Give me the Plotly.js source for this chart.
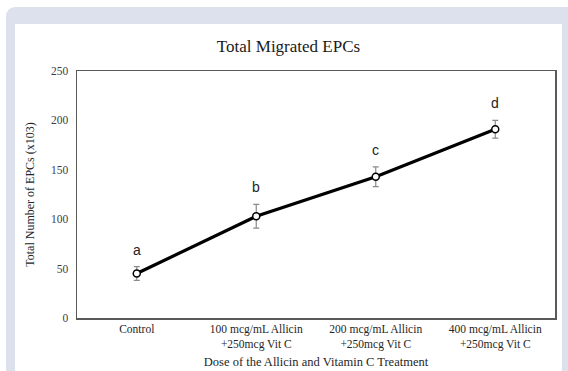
<!DOCTYPE html>
<html>
<head>
<meta charset="utf-8">
<script src="https://cdn.plot.ly/plotly-3.0.1.min.js"></script>
<style>
  html, body { margin: 0; padding: 0; background: #ffffff; width: 568px; height: 371px; overflow: hidden; }
  #frame { position: absolute; left: 6px; top: 7px; width: 600px; height: 400px; background: #dde1ee; border-radius: 9px; }
  #chart { position: absolute; left: 15px; top: 24px; width: 547px; height: 347px; background: #ffffff; }
</style>
</head>
<body>
<div id="frame"></div>
<div id="chart"></div>
<script>
const categories = [
  "Control",
  "100 mcg/mL Allicin<br>+250mcg Vit C",
  "200 mcg/mL Allicin<br>+250mcg Vit C",
  "400 mcg/mL Allicin<br>+250mcg Vit C"
];
const migratedEPCs = [45, 103, 143, 191];
const errorSD = [7, 12, 10, 9];
const groupLetters = ["a", "b", "c", "d"];
const yTicks = [0, 50, 100, 150, 200, 250];

const serif = "Liberation Serif, Times New Roman, serif";

const trace = {
  x: categories,
  y: migratedEPCs,
  type: "scatter",
  mode: "lines+markers",
  line: { color: "#000000", width: 3.2 },
  marker: { symbol: "circle", size: 7, color: "#ffffff", line: { color: "#000000", width: 1.5 } },
  error_y: { type: "data", array: errorSD, visible: true, color: "#8a8a8a", thickness: 1.2, width: 3 },
  hoverinfo: "none"
};

const annotations = categories.map((c, i) => ({
  x: c,
  y: migratedEPCs[i] + errorSD[i],
  xref: "x",
  yref: "y",
  text: groupLetters[i],
  showarrow: false,
  yanchor: "middle",
  yshift: 17,
  font: { family: "Liberation Sans, Arial, sans-serif", size: 14, color: "#222222" }
}));

const layout = {
  width: 547,
  height: 347,
  margin: { l: 62, r: 7, t: 47, b: 53 },
  paper_bgcolor: "#ffffff",
  plot_bgcolor: "#ffffff",
  showlegend: false,
  title: {
    text: "Total Migrated EPCs",
    font: { family: serif, size: 17, color: "#1a1a1a" },
    x: 0.5,
    xanchor: "center",
    y: 1,
    yref: "paper",
    yanchor: "bottom",
    pad: { b: 19 }
  },
  xaxis: {
    type: "category",
    range: [-0.5, 3.5],
    showgrid: false,
    zeroline: false,
    showline: true,
    mirror: true,
    linecolor: "#595959",
    linewidth: 1.5,
    ticks: "",
    tickfont: { family: serif, size: 11.5, color: "#262626" },
    title: {
      text: "Dose of the Allicin and Vitamin C Treatment",
      font: { family: serif, size: 12.5, color: "#262626" },
      standoff: 7
    }
  },
  yaxis: {
    range: [0, 250],
    tickvals: yTicks,
    showgrid: false,
    zeroline: false,
    showline: true,
    mirror: true,
    linecolor: "#595959",
    linewidth: 1.5,
    ticks: "",
    ticklabelstandoff: 5,
    tickfont: { family: serif, size: 11.5, color: "#404040" },
    title: {
      text: "Total Number of EPCs (x103)",
      font: { family: serif, size: 12, color: "#262626" },
      standoff: 14
    }
  },
  annotations: annotations
};

Plotly.newPlot("chart", [trace], layout, { staticPlot: true, displayModeBar: false });
</script>
</body>
</html>
